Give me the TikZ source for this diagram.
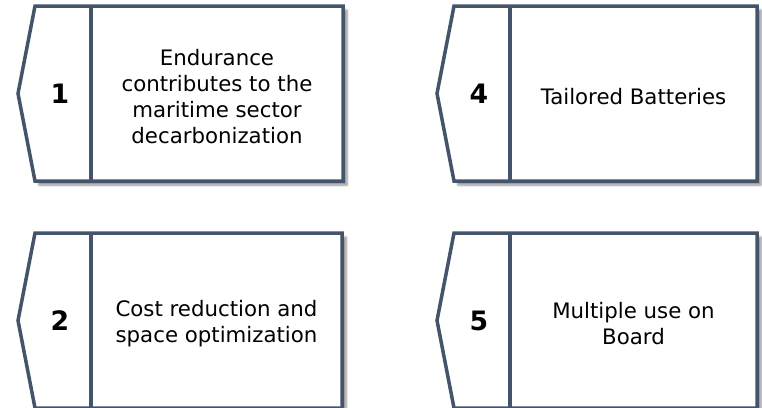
\documentclass[tikz,border=0pt]{standalone}
\usepackage{fontspec}
\setmainfont{DejaVu Sans}
\usepackage{tikz}
\usetikzlibrary{shadows.blur}

\definecolor{slateblue}{RGB}{68,84,106}

\begin{document}
\begin{tikzpicture}[x=1pt,y=-1pt,
                    boxline/.style={draw=slateblue,line width=3.5pt,fill=white,
                      blur shadow={shadow xshift=4pt,shadow yshift=-4pt,shadow blur steps=6,shadow opacity=45}},
                    divline/.style={draw=slateblue,line width=3.5pt},
                    numtext/.style={font=\fontsize{26.7}{30}\selectfont\bfseries},
                    desctext/.style={align=center,font=\fontsize{21.3}{26}\selectfont}]

  \useasboundingbox (0,0) rectangle (762,407);
  \clip (0,0) rectangle (762,407);

  % x, y of top left corner / width / number / text
  \foreach \x/\y/\w/\n/\t in {35/6/308/1/{Endurance\\contributes to the\\maritime sector\\decarbonization},
                              454/6/303/4/{Tailored Batteries},
                              35/233/307/2/{Cost reduction and\\space optimization},
                              454/233/303/5/{Multiple use on\\Board}}
  {
    \draw[boxline] ({\x},{\y}) -- ({\x+\w},{\y}) -- ({\x+\w},{\y+175})
                   -- ({\x},{\y+175}) -- ({\x-17},{\y+87.5}) -- cycle;
    \draw[divline] ({\x+56},{\y}) -- ({\x+56},{\y+175});

    \node[numtext] (num\n) at ({\x+25},{\y+87.5}) {\n};
    \node[desctext] (desc\n) at ({\x+56+(\w-56)/2},{\y+90.5}) {\t};
  }
\end{tikzpicture}
\end{document}
